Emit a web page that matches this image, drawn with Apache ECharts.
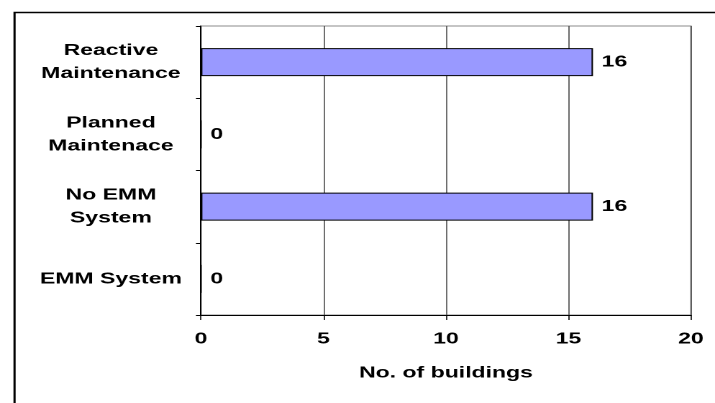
<!DOCTYPE html>
<html>
<head>
<meta charset="utf-8">
<script src="https://cdn.jsdelivr.net/npm/echarts@6/dist/echarts.min.js"></script>
<style>
  html, body { margin: 0; padding: 0; background: #fff; overflow: hidden; }
  #frame { width: 715px; height: 403px; overflow: hidden; position: relative; }
  /* The chart is laid out on a narrower canvas and widened, giving the
     broad, horizontally stretched lettering of the original graphic. */
  #chart {
    width: 497px; height: 403px;
    transform-origin: 0 0;
    transform: scaleX(1.4386);
  }
</style>
</head>
<body>
<div id="frame"><div id="chart"></div></div>
<script>
// Categories listed top to bottom
const categories = ['Reactive\nMaintenance', 'Planned\nMaintenace', 'No EMM\nSystem', 'EMM System'];
const buildingCounts = [16, 0, 16, 0];
const xTicks = { min: 0, max: 20, interval: 5 };
const xAxisTitle = 'No. of buildings';

const FONT = 'Arial, "Liberation Sans", sans-serif';

const chart = echarts.init(document.getElementById('chart'), null, {
  renderer: 'canvas',
  devicePixelRatio: 2
});

chart.setOption({
  backgroundColor: '#ffffff',
  animation: false,
  graphic: [
    {
      type: 'rect',
      left: 7.6, top: 10,
      shape: { x: 0, y: 0, width: 520, height: 410 },
      style: { fill: 'none', stroke: '#000', lineWidth: 1.5 },
      silent: true,
      z: 0
    }
  ],
  grid: {
    left: 139.7, top: 26, right: 16.7, bottom: 88,
    show: true,
    borderColor: '#8c8c8c',
    borderWidth: 1,
    backgroundColor: 'transparent'
  },
  xAxis: {
    type: 'value',
    min: xTicks.min,
    max: xTicks.max,
    interval: xTicks.interval,
    name: xAxisTitle,
    nameLocation: 'middle',
    nameGap: 50,
    nameTextStyle: { fontFamily: FONT, fontWeight: 'bold', fontSize: 16, color: '#000' },
    axisLine: { show: true, lineStyle: { color: '#000', width: 1 } },
    axisTick: { show: true, length: 5, lineStyle: { color: '#000', width: 0.8 } },
    axisLabel: { margin: 16, fontFamily: FONT, fontWeight: 'bold', fontSize: 16, color: '#000' },
    splitLine: { show: true, lineStyle: { color: '#4a4a4a', width: 0.8 } }
  },
  yAxis: {
    type: 'category',
    data: categories,
    inverse: true,
    axisLine: { show: true, lineStyle: { color: '#000', width: 1 } },
    axisTick: { show: true, length: 3.5, alignWithLabel: false, lineStyle: { color: '#000' } },
    axisLabel: {
      margin: 62.6,
      align: 'center',
      fontFamily: FONT,
      fontWeight: 'bold',
      fontSize: 16,
      lineHeight: 23,
      color: '#000'
    },
    splitLine: { show: false }
  },
  series: [
    {
      type: 'bar',
      data: buildingCounts,
      barWidth: 28,
      itemStyle: { color: '#9999ff', borderColor: '#000', borderWidth: 1 },
      label: {
        show: true,
        position: 'right',
        distance: 6,
        fontFamily: FONT,
        fontWeight: 'bold',
        fontSize: 16,
        color: '#000'
      }
    }
  ]
});
</script>
</body>
</html>
